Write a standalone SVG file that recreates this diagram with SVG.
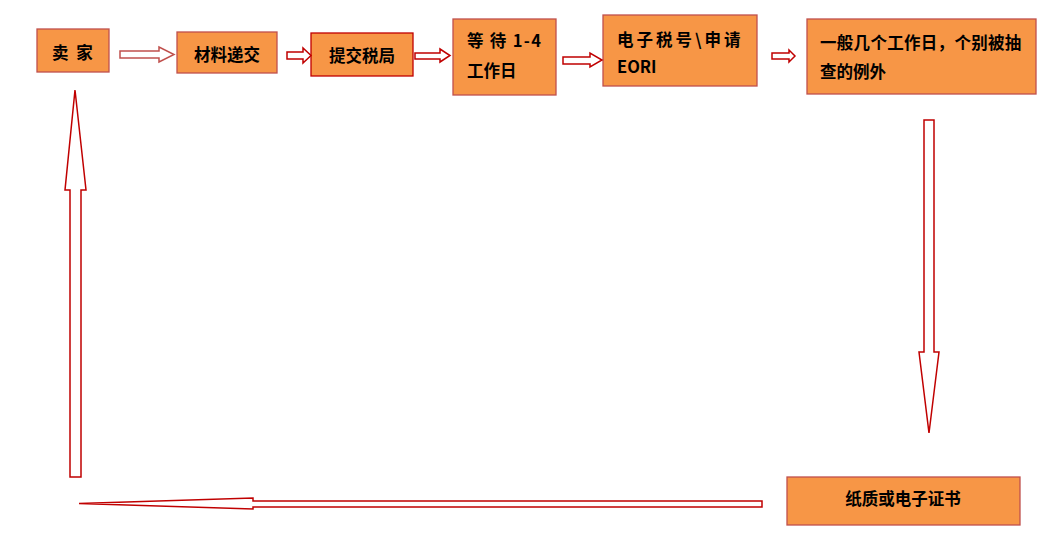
<svg xmlns="http://www.w3.org/2000/svg" width="1048" height="548" viewBox="0 0 1048 548">
<style>
.box{fill:#f79646;stroke:#c0504d;stroke-width:1.3}
.box2{fill:#f79646;stroke:#c00000;stroke-width:1.3}
.t{font-family:"Noto Sans CJK SC","Microsoft YaHei",sans-serif;font-weight:bold;font-size:16.5px;fill:#000}
.arr{fill:#fff;stroke:#c00000;stroke-width:1.5;stroke-linejoin:miter}
.arrl{fill:#fff;stroke:#c0504d;stroke-width:1.5}
</style>
<rect width="1048" height="548" fill="#fff"/>
<g id="n1"><rect class="box" x="37" y="29" width="72" height="43"/><text class="t" x="52" y="59" letter-spacing="2">卖 家</text></g>
<g id="n2"><rect class="box" x="177" y="32" width="100" height="41"/><text class="t" x="227" y="61" text-anchor="middle">材料递交</text></g>
<g id="n3"><rect class="box2" x="311" y="33" width="102" height="43"/><text class="t" x="362" y="62" text-anchor="middle">提交税局</text></g>
<g id="n4"><rect class="box" x="453" y="19" width="103" height="76"/><text class="t" x="467" y="47" letter-spacing="1.3">等 待 1-4</text><text class="t" x="467" y="77">工作日</text></g>
<g id="n5"><rect class="box" x="603" y="15" width="154" height="71"/><text class="t" x="617" y="46" letter-spacing="3">电子税号\申请</text><text class="t" x="617" y="73">EORI</text></g>
<g id="n6"><rect class="box" x="807" y="19" width="229" height="75"/><text class="t" x="820" y="49" letter-spacing="0.3">一般几个工作日，个别被抽</text><text class="t" x="820" y="78">查的例外</text></g>
<g id="n7"><rect class="box" x="787" y="477" width="233" height="48"/><text class="t" x="903" y="505" text-anchor="middle">纸质或电子证书</text></g>
<g id="connectors">
<polygon class="arrl" points="120,51 159,51 159,47 174,54.5 159,62 159,58 120,58"/>
<polygon class="arr" points="287,52 303,52 303,48 311,55.5 303,63 303,59 287,59"/>
<polygon class="arr" points="415,53 440,53 440,49 450,55.5 440,62 440,59 415,59"/>
<polygon class="arr" points="563,57 590,57 590,53 602,60 590,67 590,64 563,64"/>
<polygon class="arr" points="772,53 789,53 789,50 795,56 789,62 789,59 772,59"/>
<polygon class="arr" points="924,120 934,120 934,352 939,352 929,433 919,352 924,352"/>
<polygon class="arr" points="70,477 81,477 81,190 86,190 75,90 65,190 70,190"/>
<polygon class="arr" points="762,501 762,507 253,507 253,509 79,503.5 253,498 253,501"/>
</g>
</svg>
